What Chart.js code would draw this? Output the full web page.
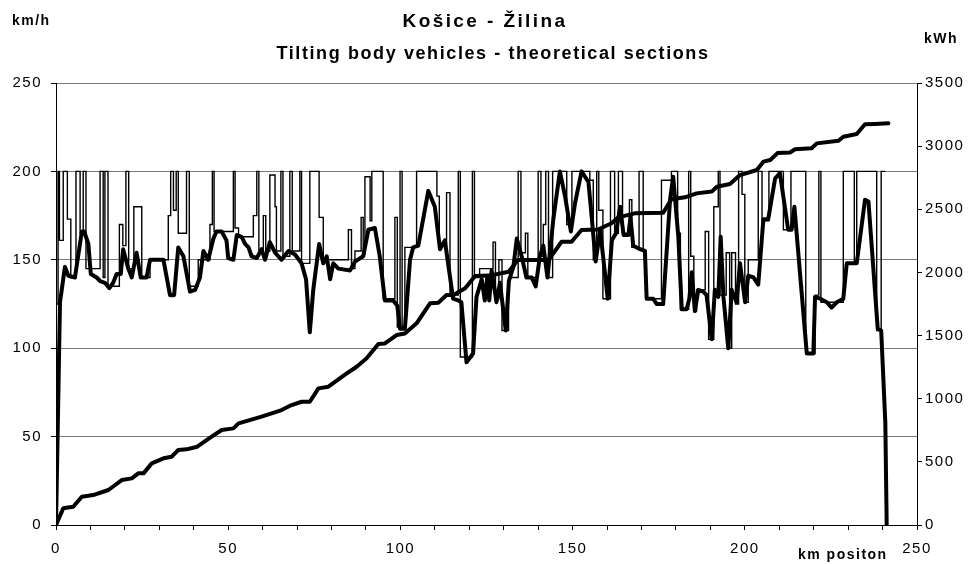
<!DOCTYPE html>
<html>
<head>
<meta charset="utf-8">
<script src="https://cdn.jsdelivr.net/npm/chart.js@4.4.1/dist/chart.umd.min.js"></script>
<style>
  html, body { margin: 0; padding: 0; background: #fff; }
  #wrap { width: 974px; height: 564px; }
</style>
</head>
<body>
<div id="wrap"><canvas id="grafico" width="974" height="564"></canvas></div>
<script>
// Textos do grafico
const tituloLinha1 = 'Košice - Žilina';
const tituloLinha2 = 'Tilting body vehicles - theoretical sections';
const eixoEsquerdo = 'km/h';
const eixoDireito = 'kWh';
const eixoX = 'km positon';

// Limite de velocidade (degraus): km de inicio e valor em km/h
const limiteKm = [0, 0.6, 1.0, 2.1, 3.3, 4.3, 5.8, 7.0, 7.9, 8.7, 12.8, 13.7, 14.2, 15.1, 18.4, 19.4, 20.3, 21.1, 22.6, 24.9,
  27.3, 32.6, 33.3, 34.1, 34.9, 35.5, 37.9, 38.7, 41.3, 44.7, 45.4, 45.9, 51.5, 52.0, 53.0, 57.3, 58.3, 58.9, 60.2, 60.9,
  62.1, 63.6, 64.0, 65.3, 65.9, 67.9, 68.6, 70.8, 71.3, 73.7, 76.4, 77.6, 84.9, 85.8, 86.8, 88.6, 89.2, 89.7, 91.2, 91.7,
  95.0, 98.4, 99.1, 99.9, 100.5, 101.3, 104.7, 110.6, 111.3, 113.4, 114.4, 116.8, 117.4, 120.9, 121.5, 123.0, 126.9, 127.6, 128.6, 129.5,
  131.4, 134.2, 135.0, 136.3, 137.0, 140.0, 140.8, 141.5, 142.2, 143.0, 144.2, 148.3, 149.8, 155.0, 156.0, 157.0, 157.6, 158.8, 161.0, 162.2,
  163.3, 164.5, 166.5, 167.2, 169.3, 170.5, 171.3, 175.8, 178.7, 180.5, 181.3, 183.7, 184.3, 185.2, 186.0, 188.5, 189.5, 191.0, 192.3, 192.8,
  194.6, 195.6, 196.2, 197.3, 198.2, 199.2, 200.0, 201.0, 203.9, 205.0, 207.0, 211.2, 213.4, 217.7, 220.4, 221.5, 222.1, 228.6, 231.8, 232.5,
  238.3, 239.6, 240.8];
const limiteKmh = [125, 200, 161, 200, 173, 140, 200, 165, 200, 145, 200, 140, 200, 135, 170, 158, 200, 145, 180, 140,
  150, 175, 200, 178, 200, 165, 200, 135, 150, 170, 200, 166, 200, 168, 163, 175, 200, 155, 175, 155,
  198, 180, 155, 200, 152, 200, 155, 200, 148, 200, 174, 150, 167, 145, 155, 174, 153, 197, 172, 200,
  128, 174, 112, 200, 112, 157, 200, 186, 158, 188, 130, 200, 95, 200, 140, 145, 160, 128, 150, 110,
  140, 200, 154, 165, 140, 200, 152, 170, 200, 140, 200, 170, 200, 195, 150, 200, 178, 128, 200, 165,
  200, 165, 184, 157, 200, 155, 128, 195, 200, 165, 122, 200, 152, 121, 133, 166, 105, 180, 200, 130,
  154, 100, 154, 125, 200, 187, 126, 150, 200, 172, 200, 167, 200, 97, 130, 200, 126, 200, 148, 200,
  110, 200, 200];

// Velocidade real do veiculo
const velocidadeKm = [0, 1.16, 2.6, 3.6, 5.5, 7.5, 8.2, 9.4, 10.1, 11.8, 12.8, 14.2, 15.5, 16.6, 17.6, 18.8, 19.5, 21, 22, 23.4,
  24.6, 26.3, 27.3, 31.2, 33.1, 34.3, 35.5, 37, 38.9, 40.4, 41.8, 42.8, 44.2, 45.7, 46.6, 48.1, 49.5, 50, 51.5, 52.5,
  53.9, 54.9, 55.9, 56.8, 58.3, 59.7, 60.7, 62.1, 63.6, 65.5, 67.5, 69.4, 71.3, 72.6, 73.7, 74.7, 76.4, 77.6, 78.6, 79.6,
  80.5, 82, 85.4, 86.8, 89.2, 90.7, 92.6, 94, 95.5, 97.9, 99.1, 99.9, 101.3, 102.8, 103.7, 105.2, 108.1, 110, 111.5, 112.9,
  115.3, 116.8, 117.7, 119.2, 121.1, 122.1, 123.6, 124.5, 125.2, 125.8, 126.5, 127.9, 128.9, 130.6, 131.5, 132.8, 133.8, 135.2, 136.6, 138.1,
  139.3, 140.5, 141.5, 142.7, 144.4, 146.3, 147.8, 149.5, 150.7, 152.6, 154.6, 155.6, 156.7, 158, 160.2, 161.4, 162.6, 163.8, 164.8, 166.2,
  166.8, 167.6, 169.6, 171, 171.5, 173.4, 174.4, 176.3, 178.3, 179.2, 180.7, 181.7, 183.1, 183.9, 184.6, 185.5, 186.5, 187.9, 188.9, 190.4,
  191.3, 192.3, 193, 193.8, 195.2, 196.2, 197.6, 198.6, 200.1, 201, 202.5, 203.9, 205.4, 206.8, 208.8, 210.2, 212.6, 213.6, 214.4, 218,
  219.9, 220.4, 221.9, 223.8, 225.2, 226.7, 228.6, 229.6, 232.5, 234.9, 235.9, 238.6, 239.6, 240.8, 241.2];
const velocidadeKmh = [0, 126, 146, 141, 140, 166, 166, 159, 142, 140, 138, 137, 134, 137, 142, 142, 156, 145, 140, 154,
  140, 140, 150, 150, 130, 130, 157, 152, 132, 133, 140, 155, 150, 162, 166, 166, 161, 151, 150, 164,
  163, 159, 157, 152, 151, 156, 150, 160, 154, 150, 155, 153, 148, 139, 109, 133, 159, 148, 152, 139,
  148, 145, 144, 149, 152, 167, 168, 152, 127, 127, 124, 111, 111, 150, 157, 158, 189, 180, 156, 161,
  128, 127, 126, 92, 97, 129, 139, 127, 140, 127, 144, 126, 137, 110, 138, 146, 162, 152, 140, 140,
  135, 152, 158, 140, 173, 200, 186, 166, 182, 200, 194, 173, 149, 167, 128, 161, 165, 180, 164, 164,
  174, 158, 156, 155, 128, 128, 125, 125, 184, 197, 163, 122, 122, 128, 143, 121, 133, 132, 130, 105,
  133, 129, 163, 129, 100, 133, 126, 148, 126, 141, 140, 136, 173, 173, 196, 199, 167, 167, 180, 97,
  97, 129, 128, 126, 123, 126, 128, 148, 148, 184, 183, 111, 110, 58, 0];

// Energia acumulada (kWh)
const energiaKm = [0, 2.1, 5.0, 7.5, 10.8, 15.2, 19.1, 22.0, 23.9, 25.4, 27.8, 31.2, 33.6, 35.5, 37.9, 41.0, 45.2, 48.1, 51.5, 53.0,
  59.7, 65.5, 68.4, 71.3, 73.7, 76.2, 79.1, 83.9, 87.3, 90.2, 93.6, 95.5, 98.9, 101.3, 104.7, 108.6, 111.0, 113.4, 115.4, 118.8,
  121.7, 126.0, 131.4, 133.0, 134.0, 143.0, 146.8, 149.7, 152.6, 157.4, 161.3, 163.3, 168.0, 176.3, 178.7, 182.6, 186.0, 190.4, 191.9, 195.7,
  198.6, 203.5, 205.4, 207.4, 209.5, 213.1, 214.6, 219.4, 220.9, 227.2, 228.6, 232.5, 234.9, 237.8, 241.7];
const energiaKwh = [0, 132, 145, 224, 237, 277, 356, 369, 409, 409, 488, 528, 541, 594, 599, 620, 699, 752, 765, 805,
  858, 910, 950, 976, 976, 1082, 1095, 1190, 1253, 1320, 1433, 1438, 1504, 1517, 1597, 1755, 1760, 1821, 1821, 1874,
  1971, 1975, 2006, 2059, 2098, 2098, 2243, 2243, 2336, 2340, 2389, 2436, 2468, 2473, 2579, 2595, 2626, 2640, 2679, 2700,
  2771, 2811, 2877, 2890, 2945, 2950, 2975, 2983, 3022, 3043, 3075, 3096, 3173, 3176, 3181];

function pares(xs, ys) {
  return xs.map((x, i) => ({ x: x, y: ys[i] }));
}

const fonte = '"Liberation Sans", Arial, sans-serif';

// Plugin para os textos fora da area do grafico
const textosExtras = {
  id: 'textosExtras',
  beforeInit(chart) {
    chart.ctx.letterSpacing = '1.5px';
  },
  beforeDraw(chart) {
    chart.ctx.letterSpacing = '1.5px';
  },
  afterDraw(chart) {
    const ctx = chart.ctx;
    ctx.save();
    ctx.fillStyle = '#000';
    ctx.textBaseline = 'alphabetic';
    ctx.textAlign = 'center';
    ctx.letterSpacing = '2.4px';
    ctx.font = 'bold 19px ' + fonte;
    ctx.fillText(tituloLinha1, 485, 27);
    ctx.letterSpacing = '1.6px';
    ctx.font = 'bold 18px ' + fonte;
    ctx.fillText(tituloLinha2, 493, 59);
    ctx.letterSpacing = '1.5px';
    ctx.font = 'bold 14px ' + fonte;
    ctx.textAlign = 'left';
    ctx.fillText(eixoEsquerdo, 12, 25);
    ctx.fillText(eixoDireito, 924, 43);
    ctx.fillText(eixoX, 798, 559);
    ctx.restore();
  }
};

const ctx = document.getElementById('grafico').getContext('2d');
new Chart(ctx, {
  type: 'line',
  data: {
    datasets: [
      {
        label: 'limit',
        data: pares(limiteKm, limiteKmh),
        yAxisID: 'y',
        borderColor: '#000',
        borderWidth: 1.4,
        stepped: 'before',
        pointRadius: 0,
        fill: false
      },
      {
        label: 'speed',
        data: pares(velocidadeKm, velocidadeKmh),
        yAxisID: 'y',
        borderColor: '#000',
        borderWidth: 4,
        borderJoinStyle: 'round',
        borderCapStyle: 'round',
        tension: 0,
        pointRadius: 0,
        fill: false
      },
      {
        label: 'energy',
        data: pares(energiaKm, energiaKwh),
        yAxisID: 'y2',
        borderColor: '#000',
        borderWidth: 4,
        borderJoinStyle: 'round',
        borderCapStyle: 'round',
        tension: 0,
        pointRadius: 0,
        fill: false
      }
    ]
  },
  options: {
    responsive: false,
    animation: false,
    layout: { padding: { top: 83, left: 0, right: 0, bottom: 0 } },
    plugins: {
      legend: { display: false },
      title: { display: false },
      tooltip: { enabled: false }
    },
    scales: {
      x: {
        type: 'linear',
        min: 0,
        max: 250,
        afterFit(scale) { scale.height = 39; },
        grid: { drawOnChartArea: false, drawTicks: true, tickLength: 5, tickColor: '#000' },
        border: { color: '#000', width: 1 },
        ticks: {
          stepSize: 10,
          autoSkip: false,
          maxRotation: 0,
          padding: 10,
          color: '#000',
          font: { family: fonte, size: 15 },
          callback: v => (v % 50 === 0 ? String(v) : '')
        }
      },
      y: {
        position: 'left',
        min: 0,
        max: 250,
        afterFit(scale) { scale.width = 56; },
        grid: { color: '#7a7a7a', lineWidth: 1, tickLength: 5, tickColor: '#000' },
        border: { color: '#000', width: 1 },
        ticks: { stepSize: 50, padding: 9, color: '#000', font: { family: fonte, size: 15 } }
      },
      y2: {
        position: 'right',
        min: 0,
        max: 3500,
        afterFit(scale) { scale.width = 57; },
        grid: { drawOnChartArea: false, tickLength: 5, tickColor: '#000' },
        border: { color: '#000', width: 1 },
        ticks: {
          stepSize: 500,
          padding: 3,
          color: '#000',
          font: { family: fonte, size: 15 },
          callback: v => String(v)
        }
      }
    }
  },
  plugins: [textosExtras]
});
</script>
</body>
</html>
